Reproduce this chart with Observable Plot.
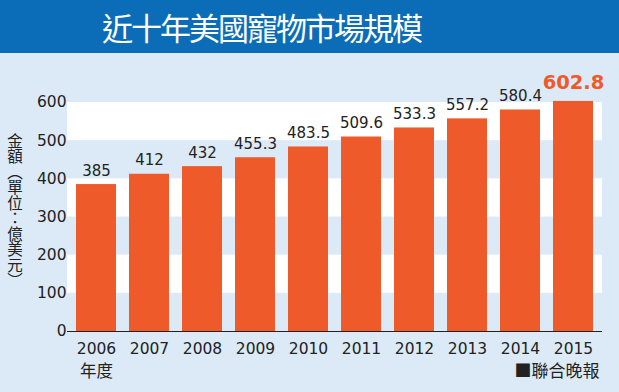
<!DOCTYPE html>
<html>
<head>
<meta charset="utf-8">
<script src="https://cdn.jsdelivr.net/npm/d3@7"></script>
<script src="https://cdn.jsdelivr.net/npm/@observablehq/plot@0.6"></script>
<style>
  html, body { margin: 0; padding: 0; background: #dceaf7; width: 619px; height: 392px; overflow: hidden; position: relative; }
  #title { height: 53px; background: #0b6db7; color: #fff; font-family: "Noto Sans CJK TC", sans-serif; font-size: 31px; font-weight: 400; letter-spacing: -2px; line-height: 53px; padding-left: 102px; white-space: nowrap; }
  #chart svg { display: block; }
  #ylabel { position: absolute; left: 5px; top: 133px; width: 20px; line-height: 20px; writing-mode: vertical-rl; text-orientation: mixed; font-family: "Noto Sans CJK TC", sans-serif; font-size: 15.5px; color: #222; white-space: nowrap; }
</style>
</head>
<body>
<div id="title">近十年美國寵物市場規模</div>
<div id="chart"></div>
<div id="ylabel"></div>
<script>
const years = ["2006","2007","2008","2009","2010","2011","2012","2013","2014","2015"];
const values = [385, 412, 432, 455.3, 483.5, 509.6, 533.3, 557.2, 580.4, 602.8];
const valueLabels = ["385","412","432","455.3","483.5","509.6","533.3","557.2","580.4","602.8"];
const yTicks = [0, 100, 200, 300, 400, 500, 600];
const whiteBands = [[500, 600], [300, 400], [100, 200]];
const yLabel = "金額（單位：億美元）";
const xLabel = "年度";
const source = "■聯合晚報";

const data = years.map((y, i) => ({year: y, value: values[i], label: valueLabels[i]}));
const last = data.length - 1;
const orange = "#ef5a2b";
const cjk = "'Noto Sans CJK TC', sans-serif";

const chart = Plot.plot({
  width: 619,
  height: 339,
  marginLeft: 67,
  marginRight: 17,
  marginTop: 49,
  marginBottom: 61,
  style: {fontFamily: "'DejaVu Sans', sans-serif", color: "#222", background: "transparent", overflow: "visible"},
  x: {type: "band", domain: years, paddingInner: 0.25, paddingOuter: 0.13},
  y: {domain: [0, 600]},
  marks: [
    Plot.rectY(whiteBands, {y1: d => d[0], y2: d => d[1], fill: "#ffffff"}),
    Plot.barY(data, {x: "year", y: "value", fill: orange}),
    Plot.ruleY([0], {stroke: "#222", strokeWidth: 1.2}),
    Plot.axisY({ticks: yTicks, tickSize: 0, tickPadding: 1, fontSize: 15.5, label: null, fill: "#222"}),
    Plot.axisX({tickSize: 0, tickPadding: 11, fontSize: 15.5, label: null, fill: "#222"}),
    Plot.text(data.filter((d, i) => i !== last), {x: "year", y: "value", text: "label", dy: -9, lineAnchor: "bottom", fontSize: 15, fill: "#222"}),
    Plot.text(data.filter((d, i) => i === last), {x: "year", y: "value", text: "label", dy: -12, lineAnchor: "bottom", fontSize: 19.5, fontWeight: "bold", fill: orange}),
    Plot.text([xLabel], {x: [years[0]], y: [0], dy: 40, fontSize: 16.5, fontFamily: cjk, fill: "#222"}),
    Plot.text([source], {frameAnchor: "bottom-right", dx: -3, dy: 45, textAnchor: "end", fontSize: 17, fontFamily: cjk, fill: "#222"})
  ]
});
document.getElementById("chart").appendChild(chart);
document.getElementById("ylabel").textContent = yLabel;
</script>
</body>
</html>
